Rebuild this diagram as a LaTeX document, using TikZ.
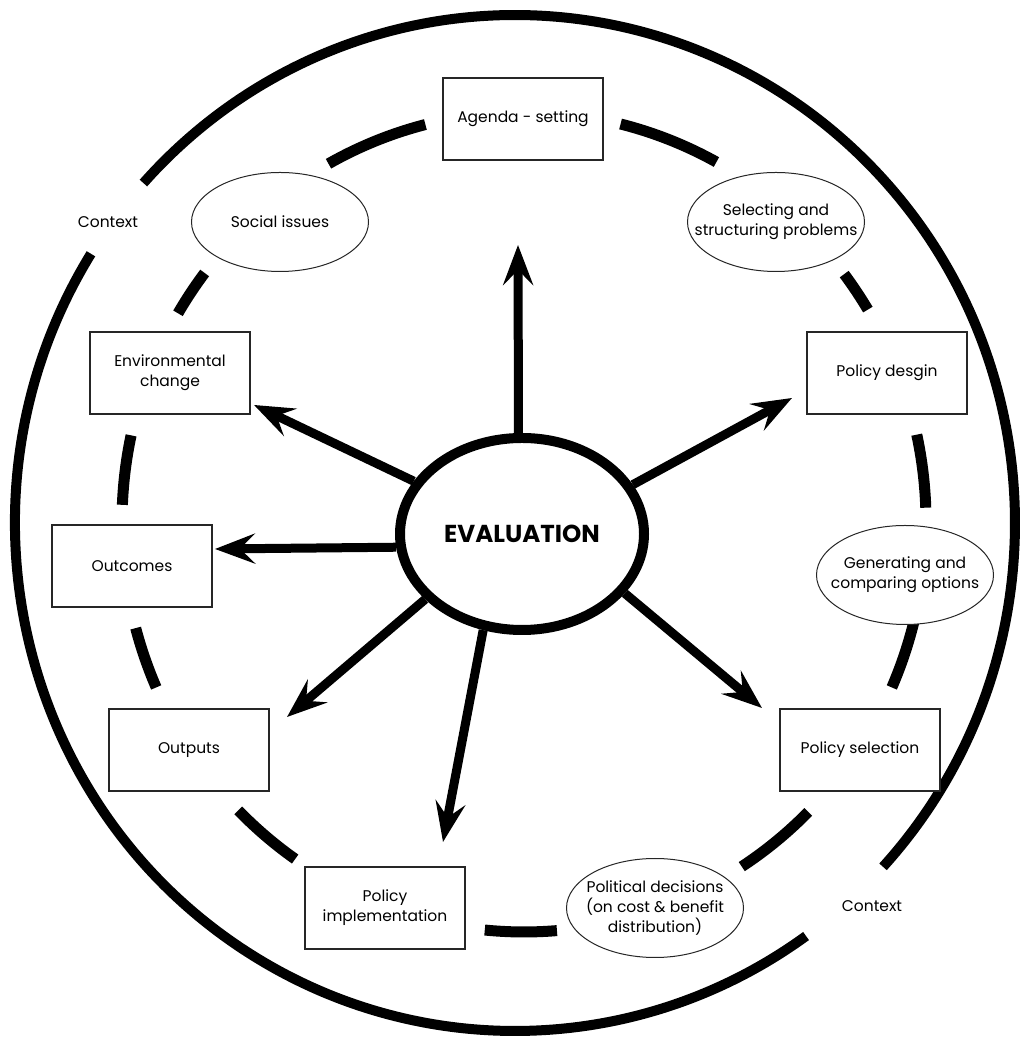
\documentclass[tikz,border=0pt]{standalone}
\usepackage{fontspec}
\setmainfont{Poppins}
\usetikzlibrary{arrows.meta, shapes.geometric}

\tikzset{
  stage/.style={draw=black!85, line width=1.2pt, fill=white, minimum width=160pt, minimum height=82pt, inner sep=2pt, align=center},
  issue/.style={ellipse, draw=black!85, line width=1pt, fill=white, inner sep=-20pt, minimum width=177pt, minimum height=99pt, align=center},
  ring/.style={line width=10pt},
  spoke/.style={line width=9pt, -{Stealth[length=40pt, width=30pt, inset=15pt]}},
}

\begin{document}
\begin{tikzpicture}[x=1pt, y=1pt, font=\fontsize{15.5}{20}\selectfont]
  \useasboundingbox (0,0) rectangle (1020,1040);

  % outer ring, open at the labels
  \draw[ring] (515,517) ++(148:500 and 508) arc[start angle=148, end angle=305.6, x radius=500, y radius=508];
  \draw[ring] (515,517) ++(-42.6:500 and 508) arc[start angle=-42.6, end angle=138, x radius=500, y radius=508];
  \node (ctx1) at (108,818) {Context};
  \node (ctx2) at (872,134) {Context};

  % inner ring, broken round the stages
  \foreach \a/\b in {104.2/119.1, 61.4/76.1, 31.2/37.2, 2/12.3, -23.8/-13.9, -57.2/-45,
                     -95.6/-85.3, 224.7/235.3, 195/203.8, 167.8/177.6, 142.6/149.4}
    \draw[ring, line width=11pt] (524,518) ++(\a:402 and 410)
      arc[start angle=\a, end angle=\b, x radius=402, y radius=410];

  \node[stage] (agenda) at (523,921) {Agenda - setting};
  \node[issue] (social) at (280,818) {Social issues};
  \node[issue] (select) at (776,818) {Selecting and\\structuring problems};
  \node[stage] (envir) at (170,667) {Environmental\\change};
  \node[stage] (design) at (887,667) {Policy desgin};
  \node[stage] (outcomes) at (132,474) {Outcomes};
  \node[issue] (options) at (905,465) {Generating and\\comparing options};
  \node[stage] (outputs) at (189,290) {Outputs};
  \node[stage] (selection) at (860,290) {Policy selection};
  \node[stage] (implement) at (385,132) {Policy\\implementation};
  \node[issue] (political) at (655,132) {Political decisions\\(on cost \& benefit\\distribution)};

  \node[ellipse, draw, line width=10pt, fill=white, minimum width=244pt, minimum height=192pt,
        inner sep=0pt, font=\fontsize{24.5}{28}\selectfont\bfseries] (eval) at (522,506) {EVALUATION};

  % arrow ends, short of the boxes
  \coordinate (toAgenda) at (518,795);
  \coordinate (toEnvir) at (254,635);
  \coordinate (toDesign) at (792,642);
  \coordinate (toOutcomes) at (215,491);
  \coordinate (toOutputs) at (287,323);
  \coordinate (toImplement) at (443,198);
  \coordinate (toSelection) at (762,332);

  \foreach \ang/\t in {92/toAgenda, 154.7/toEnvir, 24.5/toDesign, 186.8/toOutcomes,
                       214.2/toOutputs, 248.4/toImplement, 330.2/toSelection}
    \draw[spoke] (eval.\ang) -- (\t);
\end{tikzpicture}
\end{document}
